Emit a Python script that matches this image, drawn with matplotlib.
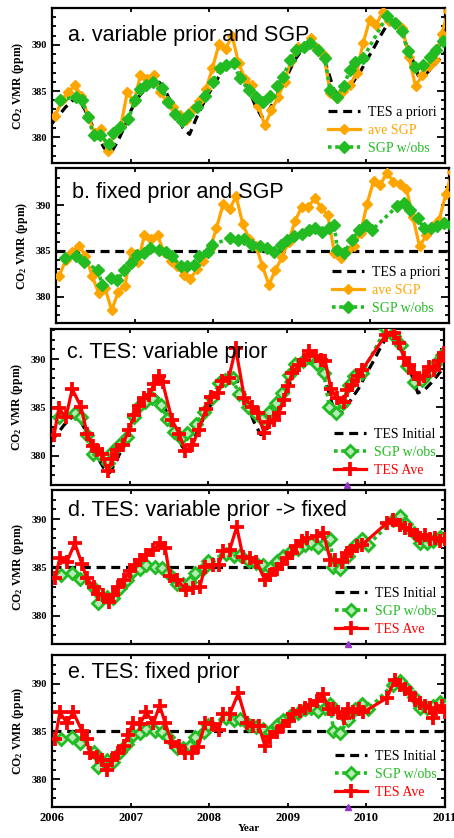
import numpy as np
import matplotlib.pyplot as plt
from matplotlib.lines import Line2D

# ---- data ----
# monthly TES a priori (variable), start of month Jan 2006 .. Jan 2011
prior_var = [381.5, 382.3, 383.2, 383.9, 384.2, 383.0, 381.5, 380.0, 378.8, 378.3, 379.5, 381.0,
             382.8, 384.2, 385.0, 385.7, 386.2, 385.5, 384.0, 382.5, 381.0, 380.3, 382.0, 383.5,
             384.8, 386.0, 387.2, 387.9, 388.3, 387.0, 385.2, 383.5, 382.2, 382.8, 384.0, 385.5,
             386.8, 388.3, 389.3, 390.0, 390.0, 389.2, 387.5, 385.2, 384.2, 385.0, 386.0, 387.0,
             388.3, 389.5, 390.8, 392.0, 392.7, 391.8, 390.2, 388.5, 386.5, 386.8, 387.5, 388.3,
             389.2]
prior_fixed = 385.0

# ave SGP, mid-month
ave_sgp = [382.3, 384.0, 384.9, 385.6, 384.5, 382.3, 380.4, 380.9, 378.5, 380.5, 381.2, 384.9,
           383.8, 386.7, 386.3, 386.7, 384.9, 383.9, 383.3, 382.4, 381.9, 383.0, 383.9, 385.2,
           387.5, 390.1, 389.6, 391.0, 388.0, 386.3, 385.6, 383.4, 381.3, 382.9, 384.3, 386.0,
           388.3, 389.8, 389.8, 390.8, 389.7, 388.9, 384.8, 384.2, 385.0, 385.6, 387.0, 390.2,
           392.7, 392.2, 393.6, 392.6, 392.4, 391.8, 388.7, 385.5, 386.7, 387.7, 388.4, 391.2,
           393.7]

# SGP w/obs, variable prior
sgp_var_t = [2006.10, 2006.31, 2006.38, 2006.46, 2006.53, 2006.61, 2006.72, 2006.78, 2006.87, 2006.97,
             2007.06, 2007.12, 2007.20, 2007.29, 2007.40, 2007.48, 2007.56, 2007.65, 2007.73, 2007.84,
             2007.95, 2008.05, 2008.14, 2008.22, 2008.31, 2008.39, 2008.50, 2008.60, 2008.69, 2008.77,
             2008.86, 2008.94, 2009.03, 2009.11, 2009.20, 2009.28, 2009.39, 2009.47, 2009.54, 2009.62,
             2009.71, 2009.79, 2009.85, 2009.96, 2010.26, 2010.36, 2010.45, 2010.53, 2010.62, 2010.72,
             2010.81, 2010.89, 2010.98]
sgp_var = [384.0, 384.4, 384.0, 382.2, 380.2, 380.2, 379.3, 380.4, 381.1, 382.0,
           384.0, 385.2, 385.6, 386.0, 385.3, 383.8, 382.5, 381.8, 382.4, 383.3,
           384.5, 386.0, 387.5, 387.8, 388.0, 386.4, 385.1, 384.4, 383.8, 384.5,
           385.5, 386.5, 388.4, 389.5, 389.8, 390.2, 389.5, 388.6, 385.1, 384.4,
           385.5, 387.3, 388.2, 388.6, 393.1, 392.4, 391.5, 389.3, 387.6, 387.8,
           388.7, 389.5, 390.4]

# SGP w/obs, fixed prior
sgp_fix_t = [2006.12, 2006.25, 2006.36, 2006.53, 2006.59, 2006.70, 2006.78, 2006.87, 2006.95, 2007.03,
             2007.12, 2007.20, 2007.31, 2007.40, 2007.48, 2007.59, 2007.67, 2007.76, 2007.82, 2007.93,
             2007.99, 2008.22, 2008.31, 2008.39, 2008.50, 2008.60, 2008.69, 2008.77, 2008.86, 2008.94,
             2009.03, 2009.13, 2009.22, 2009.30, 2009.39, 2009.47, 2009.54, 2009.58, 2009.66, 2009.77,
             2009.85, 2009.94, 2010.02, 2010.34, 2010.43, 2010.51, 2010.60, 2010.68, 2010.77, 2010.85,
             2010.94, 2011.02]
sgp_fix = [384.2, 384.4, 383.8, 382.9, 381.3, 382.0, 381.8, 382.9, 383.7, 384.6,
           384.8, 385.3, 385.1, 384.9, 384.4, 383.3, 383.3, 383.5, 384.4, 384.9,
           385.7, 386.4, 386.2, 386.3, 385.7, 385.5, 385.3, 384.9, 385.7, 386.2,
           386.6, 386.9, 387.3, 387.5, 387.1, 387.5, 387.9, 385.1, 384.8, 386.2,
           387.3, 387.9, 387.3, 389.9, 390.3, 389.5, 388.6, 387.5, 387.5, 387.7,
           388.1, 387.9]

# TES Ave, panel c (variable prior)
tes_c_t = [2006.04, 2006.10, 2006.19, 2006.27, 2006.38, 2006.46, 2006.53, 2006.59, 2006.65, 2006.72,
           2006.78, 2006.84, 2006.91, 2006.99, 2007.06, 2007.12, 2007.18, 2007.25, 2007.31, 2007.37,
           2007.42, 2007.54, 2007.63, 2007.71, 2007.80, 2007.88, 2007.97, 2008.03, 2008.12, 2008.18,
           2008.26, 2008.35, 2008.46, 2008.56, 2008.63, 2008.71, 2008.77, 2008.84, 2008.90, 2008.96,
           2009.01, 2009.07, 2009.16, 2009.22, 2009.28, 2009.37, 2009.43, 2009.49, 2009.56, 2009.64,
           2009.73, 2009.77, 2009.83, 2009.90, 2009.96, 2010.26, 2010.36, 2010.43, 2010.49, 2010.55,
           2010.62, 2010.68, 2010.75, 2010.81, 2010.87, 2010.94, 2011.00]
tes_c = [382.2, 384.9, 384.0, 386.9, 385.1, 382.3, 381.0, 380.6, 380.2, 378.4,
         379.7, 380.6, 381.1, 382.7, 384.2, 385.2, 386.0, 386.3, 387.4, 388.2,
         387.6, 383.7, 382.3, 380.5, 381.1, 382.7, 384.8, 386.1, 386.5, 387.7,
         388.0, 391.1, 386.0, 385.1, 384.4, 382.4, 383.5, 383.7, 384.4, 385.8,
         387.2, 388.6, 389.4, 389.9, 390.8, 390.3, 389.9, 389.8, 386.9, 386.0,
         385.6, 386.8, 387.3, 388.2, 388.9, 392.5, 392.7, 391.7, 390.1, 389.4,
         388.6, 387.9, 388.2, 389.2, 388.9, 389.8, 390.6]

# TES Ave, panel d (variable prior -> fixed)
tes_d_t = [2006.04, 2006.10, 2006.19, 2006.29, 2006.38, 2006.44, 2006.53, 2006.59, 2006.65, 2006.72,
           2006.78, 2006.84, 2006.91, 2006.99, 2007.06, 2007.12, 2007.20, 2007.29, 2007.37, 2007.44,
           2007.50, 2007.59, 2007.71, 2007.80, 2007.88, 2007.95, 2008.05, 2008.12, 2008.18, 2008.26,
           2008.35, 2008.43, 2008.52, 2008.60, 2008.71, 2008.77, 2008.86, 2008.92, 2008.99, 2009.05,
           2009.11, 2009.18, 2009.24, 2009.37, 2009.45, 2009.54, 2009.60, 2009.69, 2009.75, 2009.81,
           2009.88, 2009.94, 2010.26, 2010.34, 2010.43, 2010.49, 2010.55, 2010.64, 2010.68, 2010.75,
           2010.81, 2010.87, 2010.94, 2011.00]
tes_d = [383.9, 386.0, 385.6, 387.5, 385.4, 383.9, 383.0, 382.3, 382.2, 381.4,
         382.2, 383.0, 383.7, 384.6, 385.3, 385.8, 386.3, 386.8, 387.5, 387.0,
         384.1, 383.7, 382.7, 382.9, 383.0, 385.1, 385.3, 385.3, 386.7, 386.8,
         389.2, 386.1, 386.0, 385.6, 383.7, 384.2, 384.8, 385.4, 386.0, 386.5,
         387.2, 387.7, 388.0, 388.2, 388.6, 385.8, 385.8, 385.6, 386.5, 386.7,
         387.2, 387.3, 389.6, 389.9, 389.4, 389.1, 388.9, 388.4, 388.0, 388.4,
         387.9, 388.0, 387.7, 387.9]

# TES Ave, panel e (fixed prior)
tes_e_t = [2006.04, 2006.10, 2006.19, 2006.27, 2006.38, 2006.44, 2006.48, 2006.57, 2006.63, 2006.70,
           2006.76, 2006.84, 2006.91, 2006.97, 2007.03, 2007.12, 2007.20, 2007.29, 2007.37, 2007.44,
           2007.52, 2007.61, 2007.69, 2007.78, 2007.86, 2007.95, 2008.03, 2008.12, 2008.18, 2008.26,
           2008.37, 2008.48, 2008.56, 2008.63, 2008.71, 2008.77, 2008.86, 2008.94, 2009.01, 2009.07,
           2009.16, 2009.22, 2009.28, 2009.37, 2009.45, 2009.52, 2009.58, 2009.64, 2009.71, 2009.77,
           2009.83, 2009.90, 2009.96, 2010.26, 2010.36, 2010.43, 2010.49, 2010.55, 2010.62, 2010.68,
           2010.75, 2010.81, 2010.85, 2010.89, 2010.96, 2011.00]
tes_e = [384.2, 387.0, 385.9, 387.0, 385.1, 384.2, 382.7, 382.3, 382.0, 381.0,
         382.0, 382.8, 383.5, 384.6, 385.9, 385.8, 387.0, 385.9, 387.7, 385.9,
         383.9, 383.5, 382.7, 382.7, 383.4, 385.9, 385.8, 385.2, 386.8, 386.8,
         389.0, 385.9, 385.6, 385.6, 383.5, 384.4, 384.9, 385.6, 386.1, 386.8,
         387.1, 387.5, 387.8, 388.2, 388.9, 387.3, 387.3, 387.0, 386.4, 387.3,
         387.0, 387.3, 387.0, 388.5, 390.4, 389.9, 389.4, 389.0, 388.3, 388.0,
         387.7, 387.5, 386.4, 387.3, 387.7, 387.0]

titles = ["a. variable prior and SGP", "b. fixed prior and SGP", "c. TES: variable prior",
          "d. TES: variable prior -> fixed", "e. TES: fixed prior"]
year_ticks = [2006, 2007, 2008, 2009, 2010, 2011]
purple_t = 2009.77

prior_t = 2006 + np.arange(len(prior_var)) / 12.0
ave_t = 2006 + (np.arange(len(ave_sgp)) + 0.5) / 12.0

ORANGE = '#FFA500'
GREEN = '#22BB22'
RED = '#FF0000'

plt.rcParams['mathtext.fontset'] = 'custom'
plt.rcParams['mathtext.rm'] = 'Liberation Serif:bold'
plt.rcParams['mathtext.default'] = 'rm'
serif = 'Liberation Serif'

fig = plt.figure(figsize=(4.54, 8.38), dpi=100)
# [left, top, width, height] in pixels from top-left
boxes = [(52, 8, 393, 155), (56, 168, 393, 155), (51, 329, 393, 156),
         (52, 490, 393, 154), (52, 655, 393, 152)]
ylims = [(377.2, 394.0), (377.1, 394.1), (377.0, 393.1), (377.1, 393.0), (377.1, 392.8)]
title_y = [0.79, 0.806, 0.814, 0.83, 0.85]

dash_black = dict(color='black', lw=2.3, linestyle=(0, (2.8, 1.8)))
green_kw = dict(color=GREEN, lw=2.6, linestyle=(0, (1, 1)), marker='D', ms=6.5, mfc=GREEN, mec=GREEN)
green_tes_kw = dict(color=GREEN, lw=2.6, linestyle=(0, (1, 1)), marker='D', ms=6.5,
                    mfc='#B5EBB5', mec=GREEN, mew=2.0)
orange_kw = dict(color=ORANGE, lw=2.3, marker='D', ms=5.5, mfc=ORANGE, mec=ORANGE)
red_kw = dict(color=RED, lw=2.3, marker='+', ms=10, mew=2.7)

for i, (l, t, w, h) in enumerate(boxes):
    ax = fig.add_axes([l / 454, (838 - t - h) / 838, w / 454, h / 838])
    if i in (0, 2):
        ax.plot(prior_t, prior_var, zorder=2, **dash_black)
    else:
        ax.axhline(prior_fixed, zorder=2, **dash_black)

    if i < 2:
        ax.plot(ave_t, ave_sgp, zorder=3, **orange_kw)
        if i == 0:
            ax.plot(sgp_var_t, sgp_var, zorder=4, **green_kw)
        else:
            ax.plot(sgp_fix_t, sgp_fix, zorder=4, **green_kw)
        handles = [Line2D([], [], **dash_black), Line2D([], [], **orange_kw), Line2D([], [], **green_kw)]
        labels = ['TES a priori', 'ave SGP', 'SGP w/obs']
        colors = ['black', ORANGE, GREEN]
    else:
        if i == 2:
            ax.plot(sgp_var_t, sgp_var, zorder=3, **green_tes_kw)
        else:
            ax.plot(sgp_fix_t, sgp_fix, zorder=3, **green_tes_kw)
        tt, vv = [(tes_c_t, tes_c), (tes_d_t, tes_d), (tes_e_t, tes_e)][i - 2]
        ax.plot(tt, vv, zorder=4, **red_kw)
        ax.plot([purple_t], [ylims[i][0]], marker='^', ms=5, color='#9933CC',
                clip_on=False, zorder=6)
        handles = [Line2D([], [], **dash_black), Line2D([], [], **green_tes_kw), Line2D([], [], **red_kw)]
        labels = ['TES Initial', 'SGP w/obs', 'TES Ave']
        colors = ['black', GREEN, RED]

    leg = ax.legend(handles, labels, loc='lower right', frameon=False,
                    prop={'family': serif, 'size': 10}, handlelength=2.3,
                    handletextpad=0.6, labelspacing=0.35, borderaxespad=0.2)
    for txt, c in zip(leg.get_texts(), colors):
        txt.set_color(c)

    ax.set_xlim(2006, 2011)
    ax.set_ylim(*ylims[i])
    ax.set_xticks(year_ticks)
    ax.set_yticks([380, 385, 390])
    ax.set_yticks(np.arange(378, 394), minor=True)
    ax.tick_params(direction='in', top=True, right=True, which='both', width=1.3)
    ax.tick_params(axis='y', which='major', length=6)
    ax.tick_params(axis='y', which='minor', length=3)
    ax.tick_params(axis='x', which='major', length=3)
    for s in ax.spines.values():
        s.set_linewidth(1.6)
    for lab in ax.get_yticklabels():
        lab.set_fontfamily(serif)
        lab.set_fontweight('bold')
        lab.set_fontsize(7.5)
    if i == 4:
        for lab in ax.get_xticklabels():
            lab.set_fontfamily(serif)
            lab.set_fontweight('bold')
            lab.set_fontsize(9)
        ax.set_xlabel('Year', fontfamily=serif, fontweight='bold', fontsize=8, labelpad=0)
    else:
        ax.set_xticklabels([])
    ax.set_ylabel('CO$_2$ VMR (ppm)', fontfamily=serif, fontweight='bold', fontsize=8.5)
    ax.yaxis.set_label_coords(-0.066, 0.5)
    ax.text(0.04, title_y[i], titles[i], transform=ax.transAxes, fontfamily='Liberation Sans',
            fontsize=15.5, va='baseline', ha='left', zorder=7)

fig.savefig('out.png', dpi=100)
